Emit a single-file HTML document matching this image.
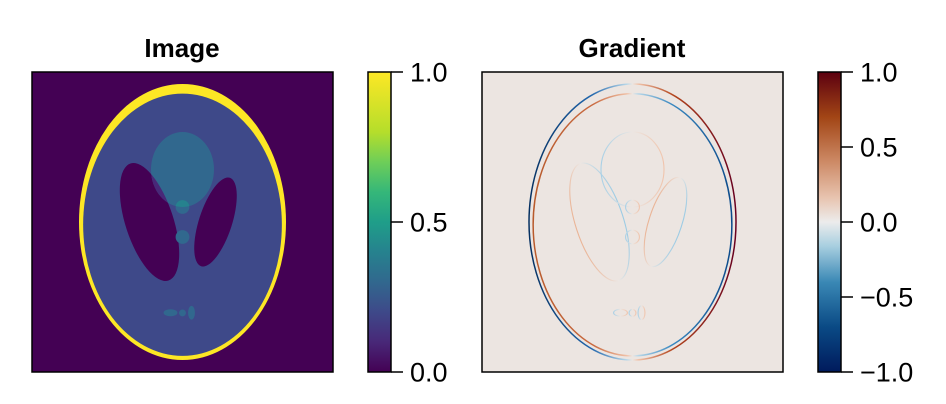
<!DOCTYPE html>
<html><head><meta charset="utf-8"><style>
html,body{margin:0;padding:0;background:#fff;width:946px;height:404px;overflow:hidden}
svg{display:block;font-family:"Liberation Sans",Arial,sans-serif}
</style></head><body>
<svg id="fig" width="946" height="404" viewBox="0 0 946 404">
<defs>
<linearGradient id="viridis" x1="0" y1="1" x2="0" y2="0">
<stop offset="0" stop-color="#440154"/><stop offset="0.1" stop-color="#482878"/><stop offset="0.2" stop-color="#3e4989"/><stop offset="0.3" stop-color="#31688e"/><stop offset="0.4" stop-color="#26828e"/><stop offset="0.5" stop-color="#1f9e89"/><stop offset="0.6" stop-color="#35b779"/><stop offset="0.7" stop-color="#6ece58"/><stop offset="0.8" stop-color="#b5de2b"/><stop offset="1" stop-color="#fde725"/>
</linearGradient>
<linearGradient id="rdbu" x1="0" y1="1" x2="0" y2="0">
<stop offset="0" stop-color="#001a5c"/><stop offset="0.15" stop-color="#0a4a85"/><stop offset="0.3" stop-color="#3a88b5"/><stop offset="0.42" stop-color="#a8cfe0"/><stop offset="0.5" stop-color="#ececec"/><stop offset="0.58" stop-color="#e8c4b0"/><stop offset="0.7" stop-color="#cd8a66"/><stop offset="0.85" stop-color="#a24515"/><stop offset="1" stop-color="#5c0010"/>
</linearGradient>
<linearGradient id="gpos" x1="0" y1="0" x2="1" y2="0">
<stop offset="0" stop-color="#053061"/><stop offset="0.3" stop-color="#2166ac"/><stop offset="0.47" stop-color="#b6d6e8"/><stop offset="0.5" stop-color="#ece6e2"/><stop offset="0.53" stop-color="#f0c0a6"/><stop offset="0.7" stop-color="#b2441c"/><stop offset="1" stop-color="#67001f"/>
</linearGradient>
<linearGradient id="gneg" x1="0" y1="0" x2="1" y2="0">
<stop offset="0" stop-color="#b85a2c"/><stop offset="0.3" stop-color="#c96a40"/><stop offset="0.47" stop-color="#f0c0a6"/><stop offset="0.5" stop-color="#ece6e2"/><stop offset="0.53" stop-color="#b6d6e8"/><stop offset="0.7" stop-color="#3a88c0"/><stop offset="1" stop-color="#0b4a8a"/>
</linearGradient>
<linearGradient id="gpl" x1="0" y1="0" x2="1" y2="0">
<stop offset="0" stop-color="#a8d0e6"/><stop offset="0.5" stop-color="#ece6e2"/><stop offset="1" stop-color="#f0c4ac"/>
</linearGradient>
<linearGradient id="gnl" x1="0" y1="0" x2="1" y2="0">
<stop offset="0" stop-color="#eab496"/><stop offset="0.5" stop-color="#ece6e2"/><stop offset="1" stop-color="#9ccbe4"/>
</linearGradient>
<clipPath id="clipL"><rect x="32" y="72" width="301" height="300"/></clipPath>
<clipPath id="clipR"><rect x="482" y="72" width="301" height="300"/></clipPath>
</defs>
<text x="182" y="57" text-anchor="middle" font-size="26" font-weight="bold">Image</text>
<text x="632" y="57" text-anchor="middle" font-size="26" font-weight="bold">Gradient</text>
<rect x="32" y="72" width="301" height="300" fill="#440154"/>
<g id="imgL" clip-path="url(#clipL)"></g>
<rect x="32" y="72" width="301" height="300" fill="none" stroke="#000" stroke-width="1.5"/>
<rect x="482" y="72" width="301" height="300" fill="#ece5e1"/>
<g id="imgR" clip-path="url(#clipR)"></g>
<rect x="482" y="72" width="301" height="300" fill="none" stroke="#000" stroke-width="1.5"/>
<rect x="368" y="72" width="23" height="300" fill="url(#viridis)" stroke="#000" stroke-width="1.5"/>
<rect x="818" y="72" width="23" height="300" fill="url(#rdbu)" stroke="#000" stroke-width="1.5"/>
<g id="ticks"></g>
</svg>
<script>
// Shepp-Logan ellipses: value, a, b, x0, y0, angle(deg)
const ellValues = [1, -0.8, -0.2, -0.2, 0.1, 0.1, 0.1, 0.1, 0.1, 0.1];
const ellA = [0.69, 0.6624, 0.11, 0.16, 0.21, 0.046, 0.046, 0.046, 0.023, 0.023];
const ellB = [0.92, 0.874, 0.31, 0.41, 0.25, 0.046, 0.046, 0.023, 0.023, 0.046];
const ellX = [0, 0, 0.22, -0.22, 0, 0, 0, -0.08, 0, 0.06];
const ellY = [0, -0.0184, 0, 0, 0.35, 0.1, -0.1, -0.605, -0.606, -0.605];
const ellPhi = [0, 0, 18, -18, 0, 0, 0, 0, 0, 0];
const imgTicks = [0, 0.5, 1];
const imgTickLabels = ["0.0", "0.5", "1.0"];
const gradTicks = [-1, -0.5, 0, 0.5, 1];
const gradTickLabels = ["\u22121.0", "\u22120.5", "0.0", "0.5", "1.0"];

const NS = "http://www.w3.org/2000/svg";
function viridis(t){
  const s=[[68,1,84],[72,40,120],[62,73,137],[49,104,142],[38,130,142],[31,158,137],[53,183,121],[110,206,88],[181,222,43],[253,231,37]];
  const p=[0,.1,.2,.3,.4,.5,.6,.7,.8,1];
  t=Math.max(0,Math.min(1,t));
  for(let i=1;i<p.length;i++){ if(t<=p[i]){const f=(t-p[i-1])/(p[i]-p[i-1]);const a=s[i-1],b=s[i];return `rgb(${a.map((v,k)=>Math.round(v+(b[k]-v)*f)).join(",")})`;} }
  return "rgb(253,231,37)";
}
function mk(tag,attrs,parent){const e=document.createElementNS(NS,tag);for(const k in attrs)e.setAttribute(k,attrs[k]);parent.appendChild(e);return e;}
function panelX(cx,x){return cx+x*150;}
function panelY(cy,y){return cy-y*150;}
function ellAttrs(i,cx,cy){
  const ex=panelX(cx,ellX[i]), ey=panelY(cy,ellY[i]);
  return {cx:ex,cy:ey,rx:ellA[i]*150,ry:ellB[i]*150,transform:`rotate(${ellPhi[i]} ${ex} ${ey})`};
}
const gL=document.getElementById('imgL');
const CXL=182.5, CYL=222;
const defs=document.querySelector('defs');
for(let i=0;i<ellValues.length;i++){
  const cp=mk('clipPath',{id:'ce'+i},defs);
  mk('ellipse',ellAttrs(i,CXL,CYL),cp);
}
function valAt(set){return set.reduce((s,i)=>s+ellValues[i],0);}
let e;
e=mk('ellipse',Object.assign(ellAttrs(0,CXL,CYL),{fill:viridis(valAt([0]))}),gL);


e=mk('ellipse',Object.assign(ellAttrs(1,CXL,CYL),{fill:viridis(valAt([0,1]))}),gL);


for(let i=2;i<ellValues.length;i++){
  e=mk('ellipse',Object.assign(ellAttrs(i,CXL,CYL),{fill:viridis(valAt([0,1,i]))}),gL);
  
  
}
[[4,2],[4,3],[4,5]].forEach(([a,b])=>{
  const g=mk('g',{'clip-path':`url(#ce${b})`},gL);
  e=mk('ellipse',Object.assign(ellAttrs(a,CXL,CYL),{fill:viridis(valAt([0,1,a,b]))}),g);
  
  
});
const gR=document.getElementById('imgR');
const CXR=632.5, CYR=222;
for(let i=0;i<ellValues.length;i++){
  const v=ellValues[i];
  const strong=Math.abs(v)>=0.5;
  const grad = v>0 ? (strong?'gpos':'gpl') : (strong?'gneg':'gnl');
  e=mk('ellipse',Object.assign(ellAttrs(i,CXR,CYR),{fill:'none',stroke:`url(#${grad})`,'stroke-width':strong?1.5:1.1}),gR);
  
  
}
const tg=document.getElementById('ticks');
imgTicks.forEach((t,k)=>{
  const y=372-t*300;
  e=mk('line',{x1:391,x2:403,y1:y,y2:y,stroke:'#000','stroke-width':1.5},tg);
  
  
  e=mk('text',{x:410,y:y+9.5,'font-size':27},tg);
  e.textContent=imgTickLabels[k];
  
  
});
gradTicks.forEach((t,k)=>{
  const y=372-(t+1)/2*300;
  e=mk('line',{x1:841,x2:853,y1:y,y2:y,stroke:'#000','stroke-width':1.5},tg);
  
  
  e=mk('text',{x:860,y:y+9.5,'font-size':27},tg);
  e.textContent=gradTickLabels[k];
  
  
});
</script>
</body></html>
